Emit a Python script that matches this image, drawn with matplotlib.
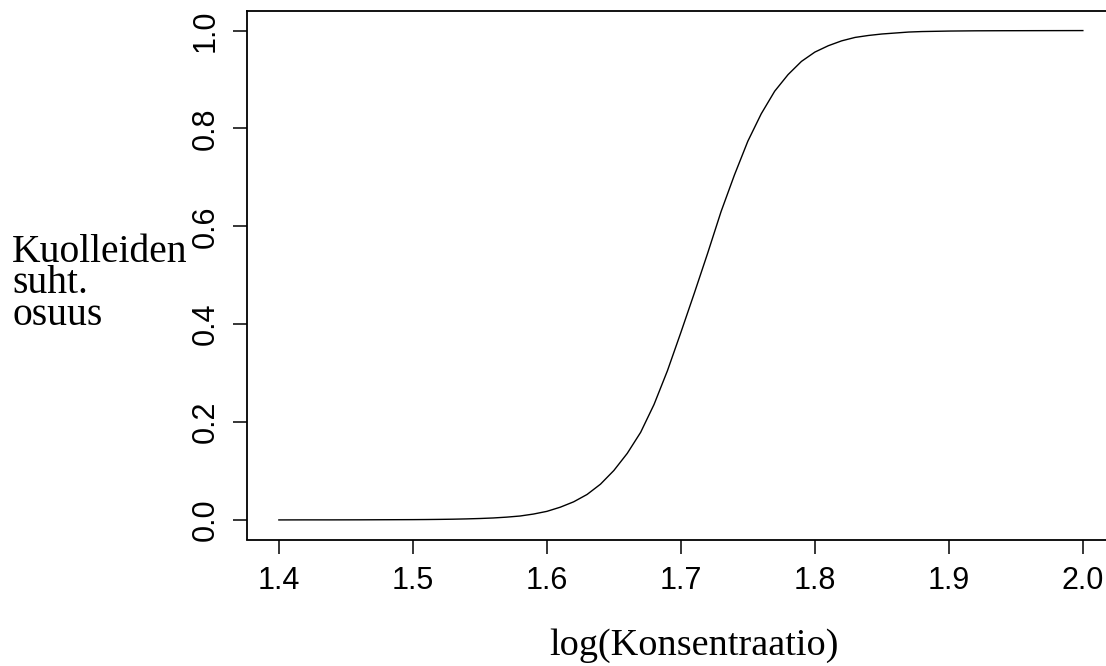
import matplotlib
matplotlib.use("Agg")
import matplotlib.pyplot as plt

# arvot luettu kuvasta
log_konsentraatio = [1.40, 1.42, 1.44, 1.46, 1.48, 1.50, 1.51, 1.52, 1.53, 1.54,
                     1.55, 1.56, 1.57, 1.58, 1.59, 1.60, 1.61, 1.62, 1.63, 1.64,
                     1.65, 1.66, 1.67, 1.68, 1.69, 1.70, 1.71, 1.72, 1.73, 1.74,
                     1.75, 1.76, 1.77, 1.78, 1.79, 1.80, 1.81, 1.82, 1.83, 1.84,
                     1.85, 1.86, 1.87, 1.88, 1.89, 1.90, 1.92, 1.94, 1.96, 1.98, 2.00]
kuolleiden_osuus = [0.0000, 0.0001, 0.0001, 0.0002, 0.0004, 0.0006, 0.0008, 0.0011, 0.0015, 0.0021,
                    0.0029, 0.0040, 0.0057, 0.0080, 0.0120, 0.0175, 0.0260, 0.0370, 0.0520, 0.0730,
                    0.1010, 0.1360, 0.1790, 0.2360, 0.3050, 0.3830, 0.4630, 0.5450, 0.6300, 0.7050,
                    0.7740, 0.8300, 0.8760, 0.9100, 0.9370, 0.9560, 0.9690, 0.9790, 0.9860, 0.9900,
                    0.9930, 0.9950, 0.9970, 0.9980, 0.9985, 0.9990, 0.9995, 0.9997, 0.9998, 0.9999, 1.0000]
x_ticks = [1.4, 1.5, 1.6, 1.7, 1.8, 1.9, 2.0]
y_ticks = [0.0, 0.2, 0.4, 0.6, 0.8, 1.0]

W, H = 1106, 666
fig = plt.figure(figsize=(W / 100, H / 100), dpi=100)

# R:n oletus-laatikko, oikea reuna menee kuvan yli
left, right, top, bottom = 246.7, 1115.0, 11.0, 539.5
ax = fig.add_axes([left / W, 1 - bottom / H, (right - left) / W, (bottom - top) / H])

ax.plot(log_konsentraatio, kuolleiden_osuus, color="black", linewidth=1.0)

ax.set_xlim(1.376, 2.024)
ax.set_ylim(-0.04, 1.04)
ax.set_xticks(x_ticks)
ax.set_xticklabels(["%.1f" % v for v in x_ticks])
ax.set_yticks(y_ticks)
ax.set_yticklabels(["%.1f" % v for v in y_ticks], rotation=90, va="center")

for s in ax.spines.values():
    s.set_linewidth(1.3)
ax.tick_params(direction="out", length=9.8, width=1.1, labelsize=22,
               pad=9)
for lab in ax.get_xticklabels() + ax.get_yticklabels():
    lab.set_family("Liberation Sans")

serif = ["Liberation Serif", "DejaVu Serif"]
fig.text(694 / W, 1 - 655 / H, "log(Konsentraatio)", ha="center", va="baseline",
         fontsize=27.5, family=serif)
# y-akselin otsikko yhtenä tekstinä, tiheä riviväli kuten alkuperäisessä
fig.text(12 / W, 1 - 234 / H, "Kuolleiden\nsuht.\nosuus", ha="left", va="top",
         fontsize=28.5, family=serif, linespacing=0.8)

fig.savefig("out.png", dpi=100)
